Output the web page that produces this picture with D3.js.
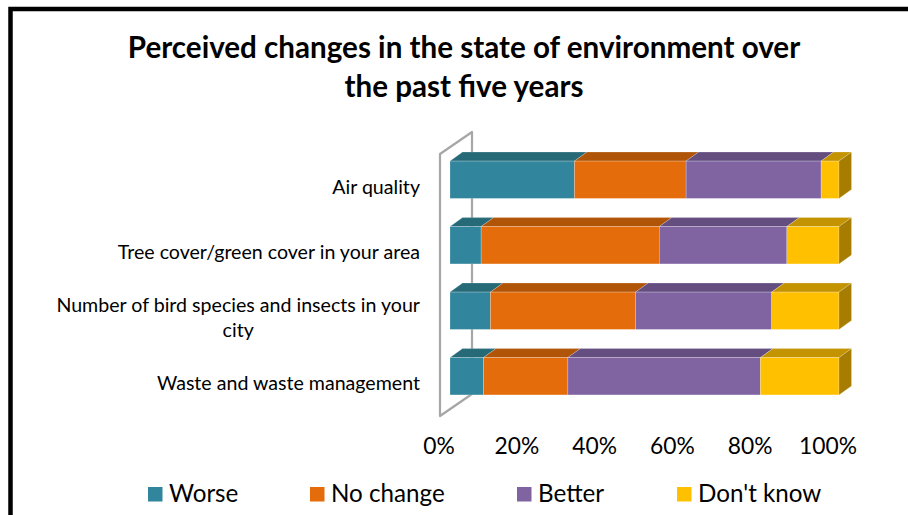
<!DOCTYPE html>
<html><head><meta charset="utf-8">
<script src="https://cdn.jsdelivr.net/npm/d3@7"></script>
<style>html,body{margin:0;padding:0;background:#fff;overflow:hidden}</style>
</head><body>
<svg id="c" width="908" height="515"></svg>
<script>
const titleLines = ["Perceived changes in the state of environment over", "the past five years"];
const categories = [
  ["Air quality"],
  ["Tree cover/green cover in your area"],
  ["Number of bird species and insects in your", "city"],
  ["Waste and waste management"]
];
const seriesNames = ["Worse", "No change", "Better", "Don't know"];
const worse    = [32.0, 8.0, 10.4, 8.6];
const noChange = [28.7, 45.8, 37.3, 21.7];
const better   = [34.7, 32.8, 35.0, 49.5];
const dontKnow = [4.6, 13.4, 17.3, 20.2];
const tickValues = [0, 0.2, 0.4, 0.6, 0.8, 1.0];

const frontCol = ["#31859C", "#E46C0A", "#8064A2", "#FFC000"];
const topCol   = ["#266A78", "#B05407", "#634E7F", "#C49300"];
const sideCol  = ["#1F5561", "#8C4305", "#4E3D64", "#A67D00"];

const svg = d3.select("#c");
const FONT = "Lato, 'Open Sans', sans-serif";

// border
svg.append("rect").attr("x", 10.5).attr("y", 9).attr("width", 920).attr("height", 530)
  .attr("fill", "none").attr("stroke", "#000").attr("stroke-width", 4.5);

// title
svg.append("g").selectAll("text").data(titleLines).join("text")
  .attr("x", 464).attr("y", (d, i) => 58 + i * 39)
  .attr("text-anchor", "middle").attr("font-family", FONT).attr("font-weight", 700)
  .attr("font-size", 29.6).attr("fill", "#000").text(d => d);

const rows = categories.map((c, i) => ({key: i, "Worse": worse[i], "No change": noChange[i], "Better": better[i], "Don't know": dontKnow[i]}));
const stack = d3.stack().keys(seriesNames).offset(d3.stackOffsetExpand)(rows);

const x = d3.scaleLinear().domain([0, 1]).range([440, 829]);
const y = d3.scaleBand().domain(categories.map((c, i) => i)).range([154, 416]).paddingInner(0.43).paddingOuter(0.215);

// depth geometry
const wallDX = 32, wallDY = -22;
const offX = 10, offY = -7;   // bar front relative to front plane
const bDX = 12.5, bDY = -9;   // bar depth

// wall
const y0 = 416, y1 = 154;
svg.append("path")
  .attr("d", `M${x(0)},${y0} L${x(0)},${y1} L${x(0)+wallDX},${y1+wallDY} L${x(0)+wallDX},${y0+wallDY} Z`)
  .attr("fill", "none").attr("stroke", "#A6A6A6").attr("stroke-width", 2.2).attr("stroke-linejoin", "round");

// bars
const gBars = svg.append("g");
stack.forEach((s, si) => {
  s.forEach((d, ri) => {
    const xa = x(d[0]) + offX, xb = x(d[1]) + offX;
    const yt = y(ri) + offY, h = y.bandwidth();
    const g = gBars.append("g");
    g.append("path").attr("d", `M${xa},${yt} L${xb},${yt} L${xb+bDX},${yt+bDY} L${xa+bDX},${yt+bDY} Z`)
      .attr("fill", topCol[si]).attr("stroke", "rgba(255,255,255,0.35)").attr("stroke-width", 0.6);
    g.append("rect").attr("x", xa).attr("y", yt).attr("width", xb - xa).attr("height", h)
      .attr("fill", frontCol[si]).attr("stroke", "rgba(255,255,255,0.35)").attr("stroke-width", 0.6);
    if (si === seriesNames.length - 1) {
      g.append("path").attr("d", `M${xb},${yt} L${xb+bDX},${yt+bDY} L${xb+bDX},${yt+bDY+h} L${xb},${yt+h} Z`)
        .attr("fill", sideCol[si]).attr("stroke", "rgba(255,255,255,0.35)").attr("stroke-width", 0.6);
    }
  });
});

// category labels
const gCat = svg.append("g").attr("font-family", FONT).attr("font-size", 19.6).attr("fill", "#000");
categories.forEach((lines, i) => {
  const cy = y(i) + y.bandwidth() / 2;
  const lh = 25;
  const t0 = cy - (lines.length - 1) * lh / 2;
  const first = gCat.append("text").attr("x", 420).attr("y", t0).attr("dy", "0.35em")
    .attr("text-anchor", "end").text(lines[0]);
  const w = first.node().getComputedTextLength();
  for (let k = 1; k < lines.length; k++) {
    gCat.append("text").attr("x", 420 - w / 2).attr("y", t0 + k * lh).attr("dy", "0.35em")
      .attr("text-anchor", "middle").text(lines[k]);
  }
});

// x axis labels
const xAxis = d3.axisBottom(x).tickValues(tickValues).tickFormat(d3.format(".0%")).tickSize(0).tickPadding(0);
const ax = svg.append("g").attr("transform", "translate(-1.5,438)").call(xAxis);
ax.select(".domain").remove();
ax.selectAll("text").attr("font-family", FONT).attr("font-size", 22.8).attr("fill", "#000");

// legend
const legX = [148, 310, 517, 677];
const leg = svg.append("g").selectAll("g").data(seriesNames).join("g")
  .attr("transform", (d, i) => `translate(${legX[i]},487)`);
leg.append("rect").attr("width", 14.5).attr("height", 14.5).attr("fill", (d, i) => frontCol[i]);
leg.append("text").attr("x", 21).attr("y", 15).attr("font-family", FONT).attr("font-size", 24.2)
  .attr("fill", "#000").text(d => d);
</script>
</body></html>
